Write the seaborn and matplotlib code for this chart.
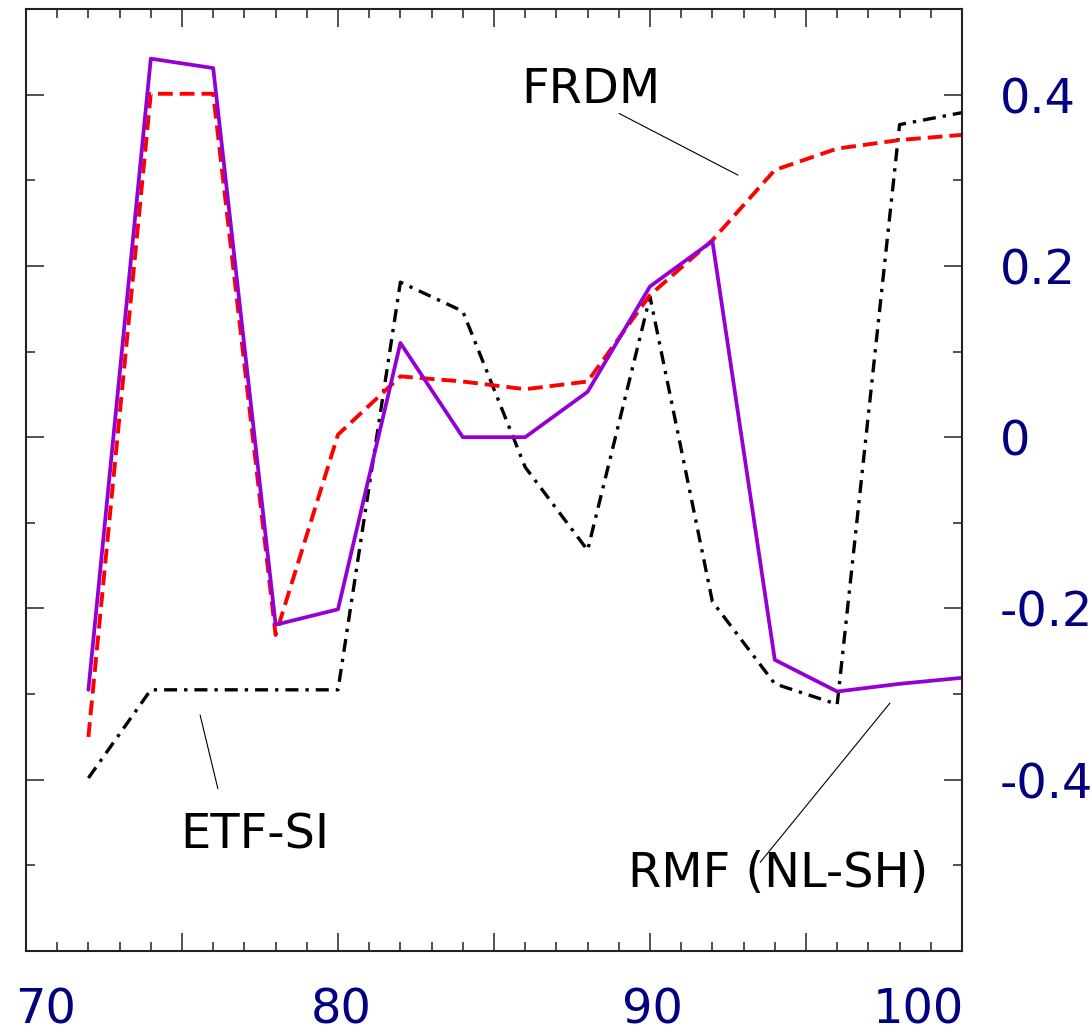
import numpy as np
import pandas as pd
import matplotlib
matplotlib.use("Agg")
import matplotlib.pyplot as plt
import matplotlib.transforms as mtransforms
from matplotlib.ticker import MultipleLocator, FixedLocator, FixedFormatter
import seaborn as sns

# ---- data ----
N = [72, 74, 76, 78, 80, 82, 84, 86, 88, 90, 92, 94, 96, 98, 100]
etf_si = [-0.398, -0.295, -0.295, -0.295, -0.295, 0.181, 0.147, -0.035, -0.132, 0.164, -0.192, -0.288, -0.312, 0.365, 0.379]
frdm = [-0.350, 0.401, 0.401, -0.231, 0.003, 0.071, 0.065, 0.056, 0.065, 0.166, 0.230, 0.312, 0.337, 0.347, 0.353]
rmf = [-0.295, 0.442, 0.431, -0.219, -0.201, 0.110, 0.0, 0.0, 0.053, 0.176, 0.229, -0.260, -0.297, -0.288, -0.281]

x_labels = ["70", "", "80", "", "90", "", "100"]
x_tick_pos = [70, 75, 80, 85, 90, 95, 100]
y_labels = ["-0.4", "-0.2", "0", "0.2", "0.4"]
y_label_pos = [-0.4, -0.2, 0.0, 0.2, 0.4]

annotations = [
    ("FRDM", (88.11, 0.3907), (89.01, 0.378), (92.82, 0.306)),
    ("ETF-SI", (77.34, -0.480), (75.58, -0.3244), (76.15, -0.4105)),
    ("RMF (NL-SH)", (94.10, -0.5256), (93.53, -0.4965), (97.69, -0.3105)),
]

df = pd.DataFrame({"N": N, "ETF-SI": etf_si, "FRDM": frdm, "RMF": rmf})

sns.set_style("white")
plt.rcParams["font.family"] = ["DejaVu Sans"]

fig = plt.figure(figsize=(10.92, 10.33), dpi=100)
ax = fig.add_axes([26 / 1092, (1033 - 951) / 1033, 936 / 1092, 942 / 1033])

sns.lineplot(data=df, x="N", y="ETF-SI", ax=ax, color="black", lw=2.4,
             linestyle=(0, (3.9, 2.1, 1.0, 2.1)))
sns.lineplot(data=df, x="N", y="FRDM", ax=ax, color="#ff0000", lw=2.8,
             linestyle=(0, (3.8, 1.8)))
sns.lineplot(data=df, x="N", y="RMF", ax=ax, color="#9400d3", lw=2.7,
             linestyle="-")

ax.set_xlim(70, 100)
ax.set_ylim(-0.6, 0.5)
ax.set_xlabel("")
ax.set_ylabel("")

# ticks
ax.xaxis.set_major_locator(FixedLocator(x_tick_pos))
ax.xaxis.set_minor_locator(MultipleLocator(1))
ax.xaxis.set_major_formatter(FixedFormatter(x_labels))
ax.yaxis.set_major_locator(FixedLocator(y_label_pos))
ax.yaxis.set_minor_locator(MultipleLocator(0.1))
ax.yaxis.set_major_formatter(FixedFormatter(y_labels))

ax.tick_params(axis="both", which="major", direction="in", length=13, width=1.1,
               color="#222222", top=True, bottom=True, left=True, right=True,
               labelleft=False, labelright=True, labeltop=False, labelbottom=True,
               labelsize=34.5, labelcolor="#000080")
ax.tick_params(axis="both", which="minor", direction="in", length=6.5, width=1.1,
               color="#222222", top=True, bottom=True, left=True, right=True)
ax.tick_params(axis="y", which="major", pad=27.4)
ax.tick_params(axis="x", which="major", pad=25.5)

for sp in ax.spines.values():
    sp.set_visible(True)
    sp.set_color("#222222")
    sp.set_linewidth(1.5)

fig.canvas.draw()
offsets = {"70": 19.5, "80": 3.5, "90": 2.0, "100": -43.5}
for lbl in ax.get_xticklabels():
    t = lbl.get_text()
    if t in offsets:
        lbl.set_transform(lbl.get_transform() + mtransforms.ScaledTranslation(offsets[t] / 100, 0, fig.dpi_scale_trans))

for text, (tx, ty), p1, p2 in annotations:
    ax.text(tx, ty, text, ha="center", va="baseline", fontsize=34.5, color="black")
    ax.plot([p1[0], p2[0]], [p1[1], p2[1]], color="black", lw=0.8)

fig.savefig("out.png", dpi=100)
